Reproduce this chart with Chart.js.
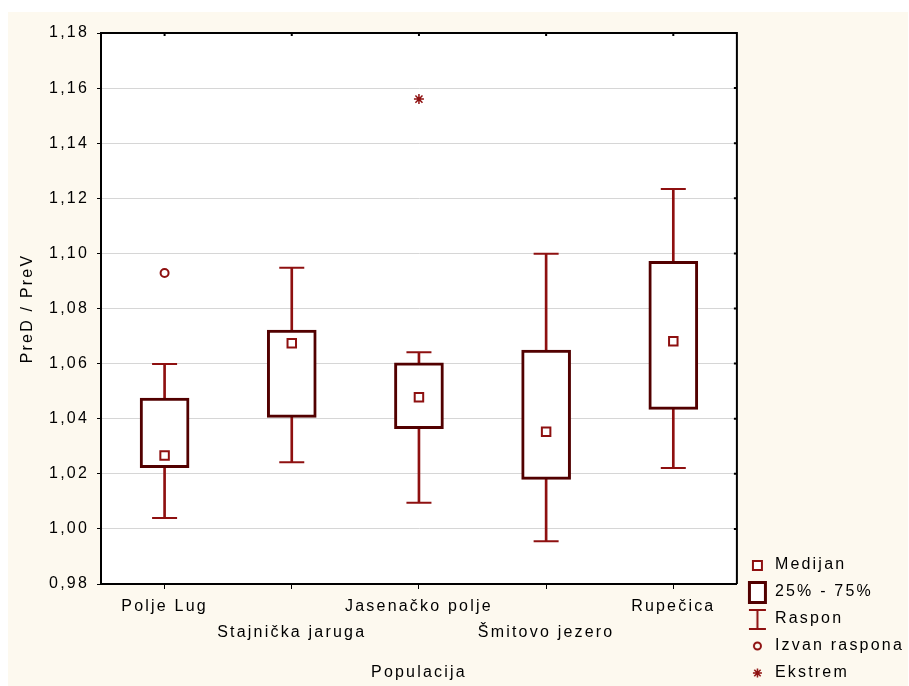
<!DOCTYPE html>
<html>
<head>
<meta charset="utf-8">
<script src="https://cdn.jsdelivr.net/npm/chart.js@4.4.1/dist/chart.umd.min.js"></script>
<style>
  html, body { margin: 0; padding: 0; background: #fff; overflow: hidden; }
  #chart { position: absolute; left: 8px; top: 12px; background: #fdf9ef; }
</style>
</head>
<body>
<canvas id="chart" width="900" height="674"></canvas>
<script>
// DATA
const categories = ['Polje Lug', 'Stajnička jaruga', 'Jasenačko polje', 'Šmitovo jezero', 'Rupečica'];
const minVals    = [1.0040, 1.0242, 1.0095, 0.9955, 1.0221];
const q1Vals     = [1.0222, 1.0405, 1.0364, 1.0180, 1.0434];
const medianVals = [1.0266, 1.0674, 1.0478, 1.0353, 1.0681];
const q3Vals     = [1.0475, 1.0722, 1.0603, 1.0649, 1.0971];
const maxVals    = [1.0599, 1.0948, 1.0641, 1.0999, 1.1234];
const outlierVals = [1.0929, null, null, null, null];
const extremeVals = [null, null, 1.1560, null, null];
const yTicks = { min: 0.98, max: 1.18, step: 0.02 };
const legendNames = ['Medijan', '25% - 75%', 'Raspon', 'Izvan raspona', 'Ekstrem'];

const BOX = '#520000';
const RED = '#8e1010';
const FONT = { family: '"Liberation Sans", Arial, sans-serif', size: 16 };

// legend icons (small canvases used as point styles)
function icon(draw) {
  const c = document.createElement('canvas');
  c.width = 27; c.height = 32;
  const g = c.getContext('2d');
  draw(g, 13, 16);
  return c;
}
const icons = [
  icon((g, x, y) => { g.fillStyle = '#fff'; g.fillRect(x - 4, y - 4, 9, 9); g.lineWidth = 2; g.strokeStyle = RED; g.strokeRect(x - 4, y - 4, 9, 9); }),
  icon((g, x, y) => { g.fillStyle = '#fff'; g.fillRect(x - 7, y - 9, 15, 19); g.lineWidth = 3; g.strokeStyle = BOX; g.strokeRect(x - 7.5, y - 9.5, 16, 20); }),
  icon((g, x, y) => { g.lineWidth = 2; g.strokeStyle = RED; g.beginPath();
    g.moveTo(x - 8, y - 9); g.lineTo(x + 9, y - 9); g.moveTo(x + 0.5, y - 9); g.lineTo(x + 0.5, y + 10);
    g.moveTo(x - 8, y + 10); g.lineTo(x + 9, y + 10); g.stroke(); }),
  icon((g, x, y) => { g.lineWidth = 2; g.strokeStyle = RED; g.beginPath(); g.arc(x + 0.5, y, 3.5, 0, Math.PI * 2); g.stroke(); }),
  icon((g, x, y) => { g.lineWidth = 1.5; g.strokeStyle = RED; g.beginPath();
    for (let a = 0; a < 4; a++) { const r = a * Math.PI / 4; g.moveTo(x + 0.5 - Math.cos(r) * 4.5, y - Math.sin(r) * 4.5); g.lineTo(x + 0.5 + Math.cos(r) * 4.5, y + Math.sin(r) * 4.5); }
    g.stroke(); })
];

// text spacing like the original rendering
const spacing = {
  id: 'spacing',
  beforeUpdate(chart) { chart.ctx.letterSpacing = '2.2px'; },
  beforeLayout(chart) { chart.ctx.letterSpacing = '2.2px'; },
  beforeDraw(chart) { chart.ctx.letterSpacing = '2.2px'; }
};

// white plot area, top & right frame with small ticks
const frame = {
  id: 'frame',
  beforeDraw(chart) {
    const { ctx, chartArea: a } = chart;
    ctx.save();
    ctx.fillStyle = '#fff';
    ctx.fillRect(a.left, a.top, a.right - a.left, a.bottom - a.top);
    ctx.restore();
  },
  afterDraw(chart) {
    const { ctx, chartArea: a, scales } = chart;
    ctx.save();
    ctx.strokeStyle = '#000';
    ctx.lineWidth = 2;
    ctx.beginPath();
    ctx.moveTo(a.left, a.top); ctx.lineTo(a.right, a.top); ctx.lineTo(a.right, a.bottom);
    ctx.stroke();
    ctx.beginPath();
    categories.forEach((c, i) => { const x = scales.x.getPixelForValue(i); ctx.moveTo(x, a.top); ctx.lineTo(x, a.top + 3); });
    scales.y.ticks.forEach(t => { const y = scales.y.getPixelForValue(t.value); ctx.moveTo(a.right, y); ctx.lineTo(a.right - 3, y); });
    ctx.stroke();
    ctx.restore();
  }
};

new Chart(document.getElementById('chart'), {
  type: 'bar',
  data: {
    labels: categories,
    datasets: [
      { type: 'line', label: 'median', data: medianVals, showLine: false, pointStyle: 'rect', pointRadius: 6,
        pointBorderWidth: 2, pointBorderColor: RED, pointBackgroundColor: '#fff', order: 1 },
      { type: 'line', label: 'outlier', data: outlierVals, showLine: false, pointStyle: 'circle', pointRadius: 4,
        pointBorderWidth: 2, pointBorderColor: RED, pointBackgroundColor: 'rgba(0,0,0,0)', order: 1 },
      { type: 'line', label: 'extreme', data: extremeVals, showLine: false, pointStyle: 'star', pointRadius: 5,
        pointBorderWidth: 1.5, pointBorderColor: RED, order: 1 },
      { type: 'line', label: 'capTop', data: maxVals, showLine: false, pointStyle: 'line', pointRadius: 12.5,
        pointBorderWidth: 2, pointBorderColor: RED, order: 2 },
      { type: 'line', label: 'capBottom', data: minVals, showLine: false, pointStyle: 'line', pointRadius: 12.5,
        pointBorderWidth: 2, pointBorderColor: RED, order: 2 },
      { label: 'box', data: q1Vals.map((q, i) => [q, q3Vals[i]]), backgroundColor: '#fff', borderColor: BOX,
        borderWidth: 3, borderSkipped: false, barThickness: 49, grouped: false, order: 3 },
      { label: 'range', data: minVals.map((m, i) => [m, maxVals[i]]), backgroundColor: RED, borderWidth: 0,
        barThickness: 2, grouped: false, order: 4 }
    ]
  },
  options: {
    responsive: false,
    animation: false,
    events: [],
    layout: { padding: { top: 21, left: 0, right: -6, bottom: -6 } },
    plugins: {
      tooltip: { enabled: false },
      legend: {
        position: 'right',
        align: 'end',
        labels: {
          usePointStyle: true,
          pointStyleWidth: 19,
          padding: 11,
          color: '#000',
          font: FONT,
          generateLabels: () => legendNames.map((t, i) => ({
            text: t, pointStyle: icons[i], fillStyle: '#fff', strokeStyle: RED, lineWidth: 0, hidden: false, datasetIndex: 0
          }))
        }
      }
    },
    scales: {
      x: {
        type: 'category',
        offset: true,
        grid: { drawOnChartArea: false, offset: false, tickLength: 5, tickColor: '#000' },
        border: { color: '#000', width: 2 },
        ticks: {
          color: '#000', padding: 5, autoSkip: false, maxRotation: 0,
          font: { ...FONT, lineHeight: 1.6 },
          callback: (v, i) => i % 2 ? ['', categories[i]] : categories[i]
        },
        title: { display: true, text: 'Populacija', color: '#000', font: FONT, padding: { top: 4, bottom: 10 } },
        afterFit: s => { s.height = 108; }
      },
      y: {
        type: 'linear',
        min: yTicks.min,
        max: yTicks.max,
        grid: { color: '#d6d6d6', tickColor: '#000', tickLength: 4 },
        border: { color: '#000', width: 2 },
        ticks: {
          stepSize: yTicks.step, color: '#000', padding: 8, font: FONT,
          callback: v => v.toFixed(2).replace('.', ',')
        },
        title: { display: true, text: 'PreD / PreV', color: '#000', font: FONT, padding: { top: 10, bottom: 0 } },
        afterFit: s => { s.width = 93; }
      }
    }
  },
  plugins: [spacing, frame]
});
</script>
</body>
</html>
